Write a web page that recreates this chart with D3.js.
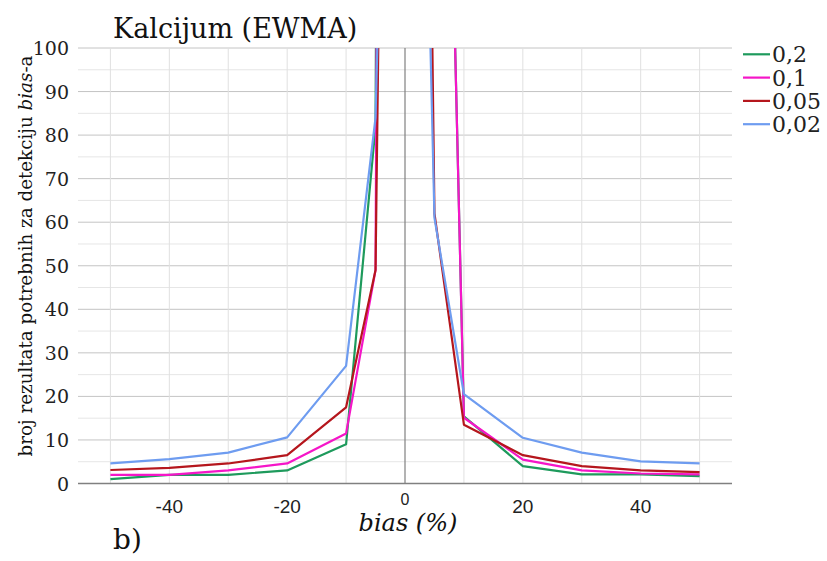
<!DOCTYPE html>
<html>
<head>
<meta charset="utf-8">
<script src="https://cdn.jsdelivr.net/npm/d3@7"></script>
<style>
  body { margin: 0; background: #fff; }
  svg { display: block; }
</style>
</head>
<body>
<svg id="chart" width="827" height="561"></svg>
<script>
// valeurs
const bias = [-50, -40, -30, -20, -10, -5, 0, 5, 10, 20, 30, 40, 50];
const lambda02 = [1.0, 2.0, 2.0, 3.0, 9.0, 82, 1500, 300, 15.4, 4.0, 2.1, 2.1, 1.7];
const lambda01 = [2.0, 2.0, 3.0, 4.6, 11.5, 49, 1500, 300, 15.1, 5.5, 3.0, 2.3, 2.1];
const lambda005 = [3.1, 3.6, 4.6, 6.5, 17.5, 49, 600, 62, 13.5, 6.5, 4.0, 3.0, 2.6];
const lambda002 = [4.6, 5.6, 7.1, 10.6, 27, 84, 350, 61, 20.5, 10.5, 7.1, 5.1, 4.6];
const seriesNames = ['0,2', '0,1', '0,05', '0,02'];
const seriesColors = ['#1e9a5c', '#f516c8', '#b5161d', '#6e9cf0'];
const xTicks = [-40, -20, 0, 20, 40];
const yTicks = [0, 10, 20, 30, 40, 50, 60, 70, 80, 90, 100];

const allSeries = [lambda02, lambda01, lambda005, lambda002];

const serif = "'DejaVu Serif', 'Liberation Serif', 'Noto Serif', serif";
const sans = "'Liberation Sans', Arial, Helvetica, sans-serif";

const svg = d3.select('#chart');

// échelles
const x = d3.scaleLinear().domain([-55.5, 55.5]).range([78, 732]);
const y = d3.scaleLinear().domain([0, 100]).range([483.5, 48]);

// grille horizontale (mineure tous les 5, majeure tous les 10)
svg.append('g')
  .selectAll('line')
  .data(d3.range(5, 100, 10))
  .enter()
  .append('line')
  .attr('x1', x(-55.5)).attr('x2', x(55.5))
  .attr('y1', d => y(d)).attr('y2', d => y(d))
  .attr('stroke', '#e6e6e6').attr('stroke-width', 1);

svg.append('g')
  .selectAll('line')
  .data(yTicks.filter(d => d > 0))
  .enter()
  .append('line')
  .attr('x1', x(-55.5)).attr('x2', x(55.5))
  .attr('y1', d => y(d)).attr('y2', d => y(d))
  .attr('stroke', '#c4c4c4').attr('stroke-width', 1);

// grille verticale
svg.append('g')
  .selectAll('line')
  .data(d3.range(-50, 51, 10).filter(d => d !== 0))
  .enter()
  .append('line')
  .attr('x1', d => x(d)).attr('x2', d => x(d))
  .attr('y1', y(100)).attr('y2', y(0))
  .attr('stroke', '#e0e0e0').attr('stroke-width', 1);

// axes
svg.append('line')
  .attr('x1', x(0)).attr('x2', x(0))
  .attr('y1', y(100)).attr('y2', y(0))
  .attr('stroke', '#808080').attr('stroke-width', 1.2);

svg.append('line')
  .attr('x1', x(-55.5)).attr('x2', x(55.5))
  .attr('y1', y(0)).attr('y2', y(0))
  .attr('stroke', '#808080').attr('stroke-width', 1.4);

// étiquettes Y
svg.append('g')
  .selectAll('text')
  .data(yTicks)
  .enter()
  .append('text')
  .attr('x', 69)
  .attr('y', d => y(d) + 7)
  .attr('text-anchor', 'end')
  .style('font-family', serif)
  .attr('font-size', 19)
  .attr('fill', '#222')
  .text(d => d);

// étiquettes X
svg.append('g')
  .selectAll('text')
  .data(xTicks)
  .enter()
  .append('text')
  .attr('x', d => x(d))
  .attr('y', d => d === 0 ? 505 : 513)
  .attr('text-anchor', 'middle')
  .style('font-family', sans)
  .attr('font-size', d => d === 0 ? 16 : 19)
  .attr('fill', '#222')
  .text(d => d);

// titres
svg.append('text')
  .attr('x', 113).attr('y', 38)
  .style('font-family', serif)
  .attr('font-size', 27)
  .attr('fill', '#111')
  .text('Kalcijum (EWMA)');

svg.append('text')
  .attr('x', 408).attr('y', 531)
  .attr('text-anchor', 'middle')
  .style('font-family', serif)
  .attr('font-style', 'italic')
  .attr('font-size', 24)
  .attr('fill', '#111')
  .text('bias (%)');

svg.append('text')
  .attr('x', 113).attr('y', 549)
  .style('font-family', serif)
  .attr('font-size', 28)
  .attr('fill', '#111')
  .text('b)');

const yTitle = svg.append('text')
  .attr('transform', 'translate(32,256) rotate(-90)')
  .attr('text-anchor', 'middle')
  .style('font-family', serif)
  .attr('font-size', 18.3)
  .attr('fill', '#111');
yTitle.append('tspan').text('broj rezultata potrebnih za detekciju ');
yTitle.append('tspan').attr('font-style', 'italic').text('bias');
yTitle.append('tspan').text('-a');

// courbes
svg.append('clipPath').attr('id', 'clip')
  .append('rect')
  .attr('x', x(-55.5)).attr('y', y(100))
  .attr('width', x(55.5) - x(-55.5)).attr('height', y(0) - y(100));

const line = d3.line()
  .x(d => x(d[0]))
  .y(d => y(d[1]));

svg.append('g')
  .attr('clip-path', 'url(#clip)')
  .selectAll('path')
  .data(allSeries)
  .enter()
  .append('path')
  .attr('d', s => line(bias.map((b, i) => [b, s[i]])))
  .attr('fill', 'none')
  .attr('stroke', (s, i) => seriesColors[i])
  .attr('stroke-width', 2.2)
  .attr('stroke-linejoin', 'round');

// légende
const legend = svg.append('g')
  .selectAll('g')
  .data(seriesNames)
  .enter()
  .append('g')
  .attr('transform', (d, i) => `translate(0,${54.3 + i * 23.3})`);

legend.append('line')
  .attr('x1', 743).attr('x2', 770)
  .attr('y1', 0).attr('y2', 0)
  .attr('stroke', (d, i) => seriesColors[i])
  .attr('stroke-width', 2.2);

legend.append('text')
  .attr('x', 772).attr('y', 8)
  .style('font-family', serif)
  .attr('font-size', 22)
  .attr('fill', '#222')
  .text(d => d);
</script>
</body>
</html>
